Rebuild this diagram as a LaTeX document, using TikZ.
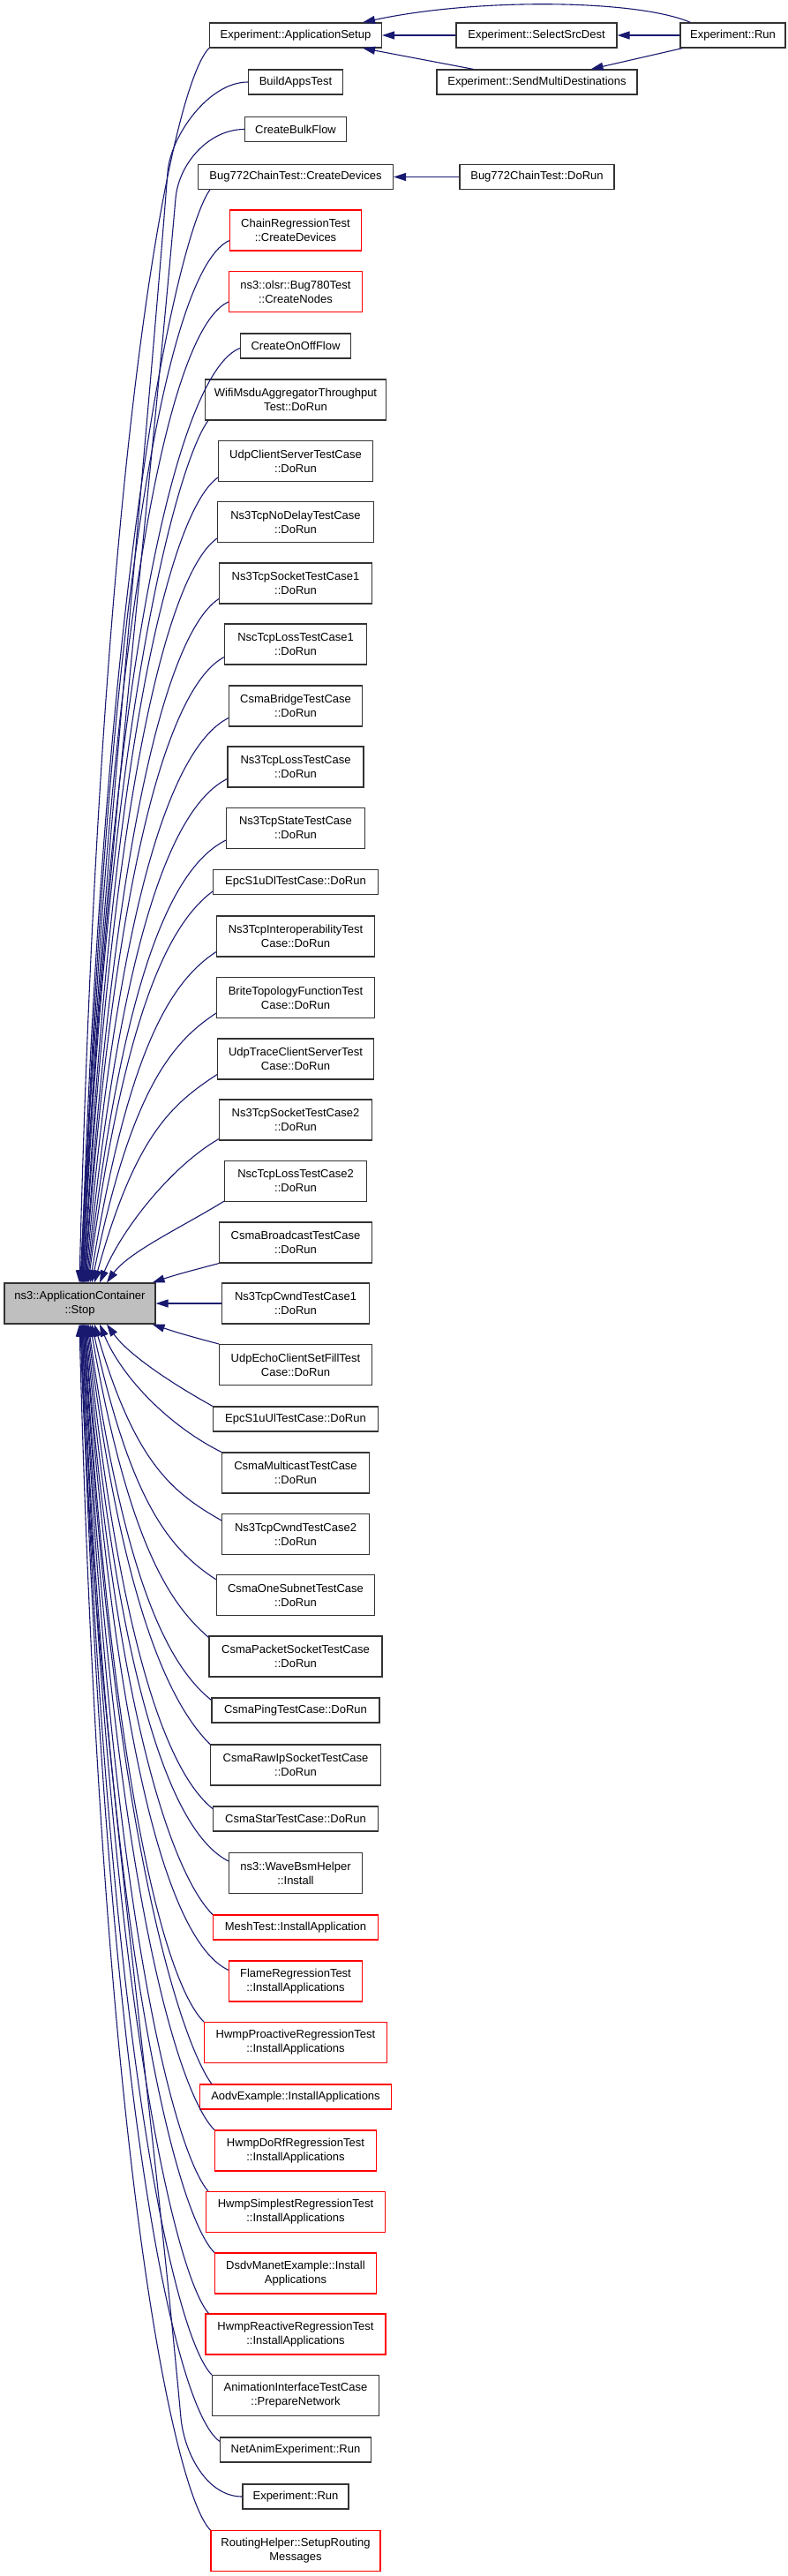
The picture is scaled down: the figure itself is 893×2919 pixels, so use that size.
\documentclass[tikz,border=0pt]{standalone}
\usepackage{fontspec}
\setmainfont{Liberation Sans}
\usetikzlibrary{arrows.meta}
\definecolor{edgeblue}{HTML}{191970}
\definecolor{rootgray}{HTML}{BFBFBF}
\begin{document}
\begin{tikzpicture}[x=1pt,y=-1pt,
  box/.style={draw=black!80, line width=1.2pt, inner sep=0pt, align=center,
    font=\fontsize{13}{16}\selectfont, fill=white},
  hbox/.style={box, draw=red},
  one/.style={minimum height=28pt},
  two/.style={minimum height=46pt},
  edge/.style={draw=edgeblue, line width=1.1pt, -{Triangle[length=14pt,width=9pt]}},
]
\useasboundingbox[fill=white] (0,0) rectangle (893,2919);

% root
\node[box,two,fill=rootgray,minimum width=171pt] (root) at (90.5,1477) {ns3::ApplicationContainer\\::Stop};

% top right
\node[box,one,minimum width=182pt] (ssd) at (608,40) {Experiment::SelectSrcDest};
\node[box,one,minimum width=119pt] (erR) at (830.5,40) {Experiment::Run};
\node[box,one,minimum width=227pt] (smd) at (608.5,93) {Experiment::SendMultiDestinations};
\node[box,one,minimum width=175pt] (bdr) at (608.5,200.5) {Bug772ChainTest::DoRun};

% main column
\node[box,one,minimum width=195pt] (n1) at (335,40) {Experiment::ApplicationSetup};
\node[box,one,minimum width=107pt] (n2) at (335,93) {BuildAppsTest};
\node[box,one,minimum width=115pt] (n3) at (335,146.5) {CreateBulkFlow};
\node[box,one,minimum width=221pt] (n4) at (335,200.5) {Bug772ChainTest::CreateDevices};
\node[hbox,two,minimum width=149pt] (n5) at (335,261) {ChainRegressionTest\\::CreateDevices};
\node[hbox,two,minimum width=151pt] (n6) at (335,330.5) {ns3::olsr::Bug780Test\\::CreateNodes};
\node[box,one,minimum width=125pt] (n7) at (335,392) {CreateOnOffFlow};
\node[box,two,minimum width=205pt] (n8) at (335,453) {WifiMsduAggregatorThroughput\\Test::DoRun};
\node[box,two,minimum width=175pt] (n9) at (335,522.5) {UdpClientServerTestCase\\::DoRun};
\node[box,two,minimum width=177pt] (n10) at (335,591.5) {Ns3TcpNoDelayTestCase\\::DoRun};
\node[box,two,minimum width=173pt] (n11) at (335,661) {Ns3TcpSocketTestCase1\\::DoRun};
\node[box,two,minimum width=161pt] (n12) at (335,730) {NscTcpLossTestCase1\\::DoRun};
\node[box,two,minimum width=151pt] (n13) at (335,800) {CsmaBridgeTestCase\\::DoRun};
\node[box,two,minimum width=154pt] (n14) at (335,869) {Ns3TcpLossTestCase\\::DoRun};
\node[box,two,minimum width=157pt] (n15) at (335,938.5) {Ns3TcpStateTestCase\\::DoRun};
\node[box,one,minimum width=187pt] (n16) at (335,999.5) {EpcS1uDlTestCase::DoRun};
\node[box,two,minimum width=179pt] (n17) at (335,1061) {Ns3TcpInteroperabilityTest\\Case::DoRun};
\node[box,two,minimum width=179pt] (n18) at (335,1130.5) {BriteTopologyFunctionTest\\Case::DoRun};
\node[box,two,minimum width=177pt] (n19) at (335,1200) {UdpTraceClientServerTest\\Case::DoRun};
\node[box,two,minimum width=173pt] (n20) at (335,1269) {Ns3TcpSocketTestCase2\\::DoRun};
\node[box,two,minimum width=161pt] (n21) at (335,1338.5) {NscTcpLossTestCase2\\::DoRun};
\node[box,two,minimum width=173pt] (n22) at (335,1408) {CsmaBroadcastTestCase\\::DoRun};
\node[box,two,minimum width=167pt] (n23) at (335,1477) {Ns3TcpCwndTestCase1\\::DoRun};
\node[box,two,minimum width=173pt] (n24) at (335,1546.5) {UdpEchoClientSetFillTest\\Case::DoRun};
\node[box,one,minimum width=187pt] (n25) at (335,1608) {EpcS1uUlTestCase::DoRun};
\node[box,two,minimum width=167pt] (n26) at (335,1669) {CsmaMulticastTestCase\\::DoRun};
\node[box,two,minimum width=167pt] (n27) at (335,1738.5) {Ns3TcpCwndTestCase2\\::DoRun};
\node[box,two,minimum width=179pt] (n28) at (335,1807.5) {CsmaOneSubnetTestCase\\::DoRun};
\node[box,two,minimum width=196pt] (n29) at (335,1877) {CsmaPacketSocketTestCase\\::DoRun};
\node[box,one,minimum width=190pt] (n30) at (335,1938) {CsmaPingTestCase::DoRun};
\node[box,two,minimum width=193pt] (n31) at (335,2000) {CsmaRawIpSocketTestCase\\::DoRun};
\node[box,one,minimum width=187pt] (n32) at (335,2061) {CsmaStarTestCase::DoRun};
\node[box,two,minimum width=151pt] (n33) at (335,2122.5) {ns3::WaveBsmHelper\\::Install};
\node[hbox,one,minimum width=187pt] (n34) at (335,2184) {MeshTest::InstallApplication};
\node[hbox,two,minimum width=151pt] (n35) at (335,2245) {FlameRegressionTest\\::InstallApplications};
\node[hbox,two,minimum width=207pt] (n36) at (335,2314.5) {HwmpProactiveRegressionTest\\::InstallApplications};
\node[hbox,one,minimum width=217pt] (n37) at (335,2376) {AodvExample::InstallApplications};
\node[hbox,two,minimum width=183pt] (n38) at (335,2437) {HwmpDoRfRegressionTest\\::InstallApplications};
\node[hbox,two,minimum width=203pt] (n39) at (335,2506.5) {HwmpSimplestRegressionTest\\::InstallApplications};
\node[hbox,two,minimum width=183pt] (n40) at (335,2576) {DsdvManetExample::Install\\Applications};
\node[hbox,two,minimum width=204pt] (n41) at (335,2645) {HwmpReactiveRegressionTest\\::InstallApplications};
\node[box,two,minimum width=189pt] (n42) at (335,2714.5) {AnimationInterfaceTestCase\\::PrepareNetwork};
\node[box,one,minimum width=171pt] (n43) at (335,2776) {NetAnimExperiment::Run};
\node[box,one,minimum width=120pt] (n44) at (335,2829) {Experiment::Run};
\node[hbox,two,minimum width=192pt] (n45) at (335,2890.5) {RoutingHelper::SetupRouting\\Messages};

% top-right edges
\draw[edge] (ssd.west) -- (n1.east);
\draw[edge] (erR.west) -- (ssd.east);
\draw[edge] ([xshift=12pt]erR.north west) .. controls +(-60,-26) and +(130,-28) .. ([xshift=-22pt]n1.north east);
\draw[edge] ([xshift=3pt]erR.south west) -- ([xshift=-53pt]smd.north east);
\draw[edge] ([xshift=42pt]smd.north west) -- ([xshift=-22pt]n1.south east);
\draw[edge] (bdr.west) -- (n4.east);

% edges into the root, from above
\draw[edge] (n1.south west) .. controls +(-40,40) and +(25,-980) .. ([xshift=-0.5pt]root.north);
\draw[edge] (n2.west) .. controls +(-45,0) and +(3,-40) .. (190,195) .. controls +(-31,399) and +(15,-350) .. ([xshift=0.5pt]root.north);
\draw[edge] (n3.west) .. controls +(-40,0) and +(3.5,-40) .. (199,225) .. controls +(-35,398) and +(16,-350) .. ([xshift=1.5pt]root.north);
\draw[edge] ([xshift=14pt]n4.south west) .. controls +(-30,40) and +(28,-868) .. ([xshift=1.5pt]root.north);
\draw[edge] ([yshift=12pt]n5.south west) .. controls +(-64,28) and +(29,-827) .. ([xshift=2.5pt]root.north);
\draw[edge] ([yshift=12pt]n6.south west) .. controls +(-64,28) and +(30,-779) .. ([xshift=2.5pt]root.north);
\draw[edge] ([yshift=12pt]n7.south west) .. controls +(-64,24) and +(31,-742) .. ([xshift=3.5pt]root.north);
\draw[edge] ([xshift=4pt]n8.south west) .. controls +(-30,40) and +(32,-685) .. ([xshift=3.5pt]root.north);
\draw[edge] ([yshift=5pt]n9.south west) .. controls +(-50,35) and +(34,-640) .. ([xshift=4.5pt]root.north);
\draw[edge] ([yshift=5pt]n10.south west) .. controls +(-50,35) and +(35,-592) .. ([xshift=4.5pt]root.north);
\draw[edge] ([yshift=6pt]n11.south west) .. controls +(-52,34) and +(36,-543) .. ([xshift=5.5pt]root.north);
\draw[edge] ([yshift=9pt]n12.south west) .. controls +(-58,31) and +(37,-497) .. ([xshift=5.5pt]root.north);
\draw[edge] ([yshift=10pt]n13.south west) .. controls +(-60,30) and +(38,-449) .. ([xshift=6.5pt]root.north);
\draw[edge] ([yshift=10pt]n14.south west) .. controls +(-60,30) and +(40,-400) .. ([xshift=7.5pt]root.north);
\draw[edge] ([yshift=10pt]n15.south west) .. controls +(-60,30) and +(41,-352) .. ([xshift=8.5pt]root.north);
\draw[edge] ([yshift=4pt]n16.south west) .. controls +(-48,36) and +(42,-312) .. ([xshift=9.5pt]root.north);
\draw[edge] ([yshift=6pt]n17.south west) .. controls +(-52,34) and +(43,-263) .. ([xshift=11.5pt]root.north);
\draw[edge] ([yshift=6pt]n18.south west) .. controls +(-52,34) and +(44,-215) .. ([xshift=13.5pt]root.north);
\draw[edge] ([yshift=6pt]n19.south west) .. controls +(-52,34) and +(46,-166) .. ([xshift=16.5pt]root.north);
\draw[edge] ([yshift=2pt]n20.south west) .. controls +(-55,32) and +(25,-60) .. ([xshift=22.5pt]root.north);
\draw[edge] ([yshift=1pt]n21.south west) .. controls +(-45,28) and +(25,-35) .. ([xshift=30.5pt]root.north);
\draw[edge] (n22.south west) .. controls +(-30,8) and +(30,-10) .. ([xshift=-4pt]root.north east);
\draw[edge] (n23.west) -- (root.east);
\draw[edge] (n24.north west) .. controls +(-30,-8) and +(30,10) .. ([xshift=-4pt]root.south east);

% edges into the root, from below
\draw[edge] (n25.north west) .. controls +(-45,-25) and +(25,35) .. ([xshift=30.5pt]root.south);
\draw[edge] (n26.north west) .. controls +(-60,-30) and +(25,60) .. ([xshift=22.5pt]root.south);
\draw[edge] ([yshift=-8pt]n27.north west) .. controls +(-56,-32) and +(46,157) .. ([xshift=16.5pt]root.south);
\draw[edge] ([yshift=-6pt]n28.north west) .. controls +(-52,-34) and +(45,204) .. ([xshift=13.5pt]root.south);
\draw[edge] ([yshift=-2pt]n29.north west) .. controls +(-44,-38) and +(44,249) .. ([xshift=11.5pt]root.south);
\draw[edge] ([yshift=-3pt]n30.north west) .. controls +(-46,-37) and +(42,299) .. ([xshift=9.5pt]root.south);
\draw[edge] (n31.north west) .. controls +(-40,-40) and +(41,334) .. ([xshift=8.5pt]root.south);
\draw[edge] ([yshift=-3pt]n32.north west) .. controls +(-46,-37) and +(40,385) .. ([xshift=7.5pt]root.south);
\draw[edge] ([yshift=-10pt]n33.north west) .. controls +(-60,-30) and +(39,427) .. ([xshift=6.5pt]root.south);
\draw[edge] (n34.north west) .. controls +(-40,-40) and +(38,469) .. ([xshift=5.5pt]root.south);
\draw[edge] ([yshift=-11pt]n35.north west) .. controls +(-62,-29) and +(37,514) .. ([xshift=5.5pt]root.south);
\draw[edge] (n36.north west) .. controls +(-40,-40) and +(36,554) .. ([xshift=4.5pt]root.south);
\draw[edge] ([xshift=14pt]n37.north west) .. controls +(-30,-40) and +(34,603) .. ([xshift=4.5pt]root.south);
\draw[edge] (n38.north west) .. controls +(-40,-40) and +(34,640) .. ([xshift=3.5pt]root.south);
\draw[edge] ([xshift=3pt]n39.north west) .. controls +(-35,-40) and +(32,689) .. ([xshift=3.5pt]root.south);
\draw[edge] (n40.north west) .. controls +(-40,-40) and +(31,737) .. ([xshift=2.5pt]root.south);
\draw[edge] ([xshift=4pt]n41.north west) .. controls +(-35,-40) and +(30,785) .. ([xshift=2.5pt]root.south);
\draw[edge] (n42.north west) .. controls +(-40,-40) and +(29,834) .. ([xshift=1.5pt]root.south);
\draw[edge] ([yshift=-5pt]n43.north west) .. controls +(-50,-35) and +(27,887) .. ([xshift=1.5pt]root.south);
\draw[edge] (n44.west) .. controls +(-40,0) and +(4,40) .. (205,2740) .. controls +(-41,-448) and +(12,400) .. ([xshift=0.5pt]root.south);
\draw[edge] (n45.north west) .. controls +(-40,-40) and +(25,958) .. ([xshift=-0.5pt]root.south);
\end{tikzpicture}
\end{document}
